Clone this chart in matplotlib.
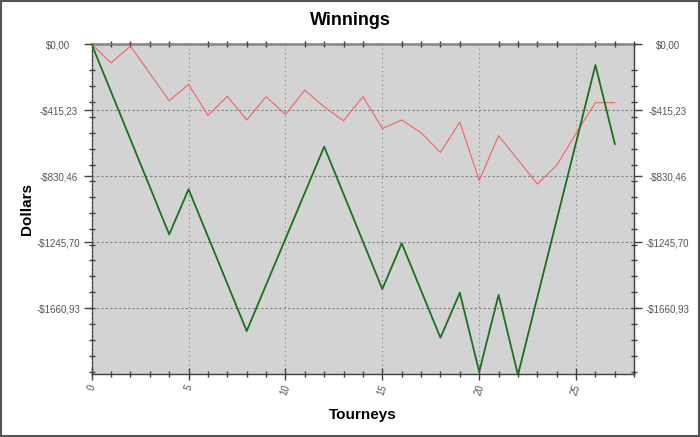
import numpy as np
import matplotlib
matplotlib.use("Agg")
import matplotlib.pyplot as plt
from matplotlib.patches import Rectangle

plt.rcParams['font.family'] = ['Liberation Sans', 'DejaVu Sans']

# tourney index and cumulative winnings
tourneys = list(range(28))
winnings_red = [0, -116, -11, -183, -355, -252, -447, -327, -476, -329,
                -441, -288, -393, -481, -329, -529, -476, -556, -680, -489,
                -856, -575, -726, -879, -761, -560, -367, -367]
winnings_green = [0, -299, -598, -897, -1196, -912, -1209, -1506, -1804, -1514,
                  -1224, -934, -644, -942, -1241, -1540, -1252, -1549, -1846, -1563,
                  -2060, -1577, -2080, -1592, -1105, -618, -130, -627]

y_ticks = [0.0, -415.23, -830.46, -1245.70, -1660.93]
y_labels = ["$0,00", "-$415,23", "-$830,46", "-$1245,70", "-$1660,93"]
y_min = -2076.16
x_max = 28

fig = plt.figure(figsize=(7, 4.37), dpi=100)
ax = fig.add_axes([0.131, 0.1435, 0.775, 0.755])
ax.set_facecolor('#d3d3d3')

ax.plot(tourneys, winnings_red, color='#f06464', lw=0.8, zorder=3)
ax.plot(tourneys, winnings_green, color='#1b701b', lw=1.3, zorder=4)

ax.set_xlim(0, x_max)
ax.set_ylim(y_min, 0)

# x ticks
ax.set_xticks(range(0, 26, 5))
ax.set_xticks(range(0, x_max + 1), minor=True)
ax.set_xticklabels([str(v) for v in range(0, 26, 5)], rotation=70,
                   fontsize=7, color='#555555')

# y ticks
ax.set_yticks(y_ticks)
ax.set_yticklabels(y_labels)
ax.set_yticks(np.arange(-160, y_min, -100.0), minor=True)

ax.tick_params(axis='y', which='major', direction='out', length=6, width=1,
               color='#404040', labelsize=7, labelcolor='#555555',
               right=True, labelright=True, pad=18)
ax.tick_params(axis='y', which='minor', direction='inout', length=4, width=1,
               color='#404040', right=True)
ax.tick_params(axis='x', which='major', direction='inout', length=9, width=1,
               color='#404040', pad=2, top=False)
ax.tick_params(axis='x', which='minor', direction='inout', length=4, width=1,
               color='#404040', top=True)

for t in ax.yaxis.get_major_ticks():
    t.label1.set_horizontalalignment('center')
    t.label2.set_horizontalalignment('center')
for t in ax.xaxis.get_major_ticks():
    t.label1.set_horizontalalignment('center')

ax.grid(axis='x', which='major', color='#808080', linestyle=(0, (1, 3)), lw=0.8)
ax.grid(axis='y', which='major', color='#808080', linestyle=(0, (2, 2)), lw=0.8)
ax.set_axisbelow(False)

for side in ['left', 'bottom', 'right']:
    ax.spines[side].set_color('#404040')
    ax.spines[side].set_linewidth(1.0)
ax.spines['top'].set_color('#909090')
ax.spines['top'].set_linewidth(2.0)

fig.text(0.5, 0.952, "Winnings", fontsize=13, fontweight='bold',
         ha='center', va='center')
ax.set_xlabel("Tourneys", fontsize=11, fontweight='bold', labelpad=8)
ax.set_ylabel("Dollars", fontsize=11, fontweight='bold', labelpad=2)

fig.patches.append(Rectangle((0.001, 0.002), 0.997, 0.996, transform=fig.transFigure,
                             fill=False, edgecolor='#555555', lw=1.5))

fig.savefig("out.png", dpi=100)
